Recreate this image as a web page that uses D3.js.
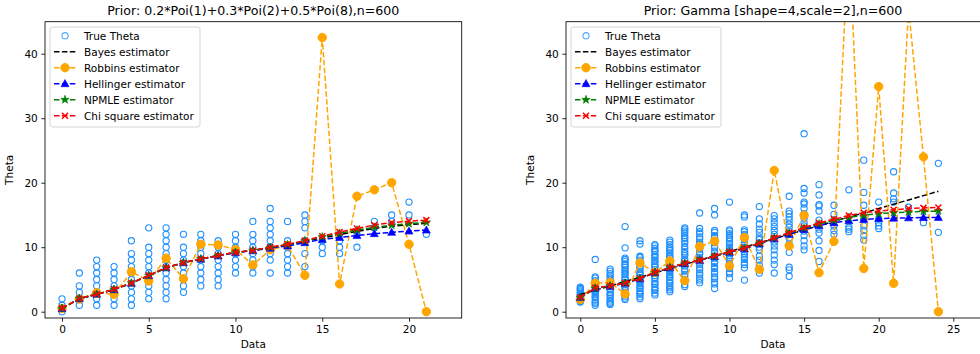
<!DOCTYPE html>
<html>
<head>
<meta charset="utf-8">
<script src="https://cdn.jsdelivr.net/npm/d3@7"></script>
<style>
  body { margin: 0; background: #fff; }
  svg { font-family: "DejaVu Sans", sans-serif; }
</style>
</head>
<body>
<svg id="chart" width="980" height="354"></svg>
<script>
// ---- left panel: Poisson mixture prior ----
const xLeft = [0,1,2,3,4,5,6,7,8,9,10,11,12,13,14,15,16,17,18,19,20,21];
const thetaLeft = [
  [0,1,2], [1,2,3,4,6], [1,2,3,4,5,6,7,8], [1,2,3,4,5,6,7], [1,2,3,4,5,6,7,8,9,11],
  [2,3,4,5,6,7,8,9,10,13], [2,3,4,5,6,7,8,9,10,11,12,13], [3,4,5,6,7,8,9,10,12],
  [4,5,6,7,8,9,10,11,12], [4,5,6,7,8,9,10,11], [6,7,8,9,10,11,12], [6,7,8,9,10,11,12,14],
  [6,8,9,10,11,12,13,14,16], [6,7,8,9,10,11,14], [7,9,11,13,14,15], [9,10,11],
  [9,10,11,12], [10,12], [13,14], [14,15], [15,17], [12]
];
const bayesLeft     = [0.5,2.0,2.7,3.45,4.45,5.6,6.8,7.6,8.2,8.7,9.2,9.5,9.95,10.35,10.9,11.45,11.95,12.45,12.9,13.25,13.5,13.7];
const robbinsLeft   = [0.5,1.95,2.95,2.7,6.2,4.75,8.3,5.1,10.45,10.35,9.65,7.25,9.6,10.25,5.65,42.5,4.3,17.9,18.9,20.0,10.45,0];
const hellingerLeft = [0.5,2.0,2.7,3.4,4.4,5.6,6.8,7.6,8.15,8.65,9.15,9.45,9.85,10.2,10.7,11.2,11.5,11.8,12.1,12.3,12.5,12.65];
const npmleLeft     = [0.5,2.05,2.7,3.45,4.45,5.6,6.8,7.6,8.2,8.7,9.2,9.5,9.95,10.4,11.0,11.6,12.15,12.65,13.1,13.4,13.65,13.85];
const chiLeft       = [0.55,2.05,2.7,3.5,4.45,5.65,6.85,7.6,8.2,8.7,9.2,9.5,10.0,10.45,11.05,11.7,12.35,12.9,13.45,13.8,14.05,14.2];

// ---- right panel: Gamma prior ----
const xRight = [0,1,2,3,4,5,6,7,8,9,10,11,12,13,14,15,16,17,18,19,20,21,22,23,24];
const thetaRight = [
  [1.5,1.6,1.8,2.0,2.3,2.5,2.7,2.9,3.2,3.4,3.6,3.8],
  [8.1,5.4,5.2,4.8,4.5,4.3,3.9,3.6,3.4,3.0,2.8,2.4,2.2,1.8,1.5,1.3,1.0],
  [6.6,6.3,5.9,5.6,5.2,4.9,4.5,4.3,3.9,3.6,3.4,3.0,2.7,2.5,2.1,1.8,1.5,1.3,1.1],
  [13.2,9.9,8.3,8.1,7.8,7.4,7.2,6.9,6.5,6.3,6.0,5.8,5.4,5.1,4.9,4.5,4.2,3.9,3.7,3.3,3.0,2.8,2.4,2.1,1.9],
  [11.0,10.5,8.6,8.4,8.0,7.7,7.5,7.1,6.8,6.6,6.2,5.9,5.7,5.3,5.0,4.8,4.4,4.1,3.8,3.6,3.2,2.9,2.7,2.3,2.0],
  [10.4,10.2,9.8,9.5,9.3,8.9,8.6,8.4,8.0,7.8,7.4,7.1,6.9,6.5,6.2,6.0,5.6,5.3,5.1,4.7,4.4,4.2,3.8,3.5,3.3,2.9,2.6],
  [11.1,10.8,10.4,10.0,9.7,9.5,9.1,8.8,8.5,8.3,7.9,7.6,7.4,7.0,6.7,6.5,6.1,5.8,5.5,5.3,4.9,4.6,4.4,4.0,3.7,3.4,3.1],
  [13.0,12.8,12.5,12.2,11.8,11.5,11.3,10.9,10.6,10.1,9.7,9.3,9.0,8.7,8.2,7.9,7.4,7.1,6.6,6.3,5.8,5.5,5.0,4.7,4.2,3.9],
  [15.3,12.9,12.4,12.1,11.6,11.3,10.8,10.5,10.0,9.7,9.2,8.9,8.4,8.1,7.6,7.3,6.8,6.5,6.0,5.7,5.2,4.9,4.5],
  [16.0,15.0,12.6,12.3,11.8,11.5,11.0,10.7,10.2,9.9,9.4,9.1,8.6,8.3,7.8,7.5,7.0,6.7,6.2,5.9,5.4,5.1,4.6,4.3,3.6],
  [17.0,12.7,12.5,12.1,11.9,11.5,11.3,10.9,10.6,10.2,9.8,9.5,9.0,8.7,8.2,7.8,7.5,7.0,6.7,6.2,5.9,5.2],
  [15.0,14.7,12.7,12.4,12.0,11.7,11.2,10.8,10.5,10.0,9.6,9.3,8.8,8.4,8.1,7.6,7.3,6.8,4.9],
  [16.3,14.4,13.6,12.8,12.3,11.6,11.2,10.6,10.0,9.6,8.6,8.0,7.2,6.6,6.0],
  [14.9,14.4,13.8,13.2,12.6,12.0,11.4,10.8,10.2,9.6,8.8,8.0,7.3,6.0],
  [17.9,15.6,15.2,14.7,14.2,13.6,13.1,12.5,12.0,11.4,10.5,9.2,6.9,6.5,5.5],
  [27.6,19.1,18.4,17.0,16.7,16.0,15.2,14.5,13.8,13.3,12.5,11.8,11.0,10.2,9.6],
  [19.7,18.1,16.6,16.4,15.6,14.2,13.4,12.8,12.2,11.0,9.5,7.8],
  [16.5,15.1,14.1,13.3,12.6,12.0],
  [18.9,13.1,12.8,12.4],
  [23.5,18.5,16.5,14.4,13.3,12.6,11.8,11.1],
  [17.0,14.4,13.8,13.3,12.9],
  [21.7,18.4,17.5,17.0],
  [16.2],
  [13.8],
  [23.0,12.3]
];
const bayesRight     = [2.67,3.33,4.0,4.67,5.33,6.0,6.67,7.33,8.0,8.67,9.33,10.0,10.67,11.33,12.0,12.67,13.33,14.0,14.67,15.33,16.0,16.67,17.33,18.0,18.67];
const robbinsRight   = [1.9,4.4,4.55,2.75,7.55,6.1,7.85,4.8,10.1,10.95,7.1,11.5,6.55,21.9,10.2,14.95,6.05,10.9,58.5,6.7,34.9,4.4,47.0,24.0,0];
const hellingerRight = [2.2,3.65,3.95,4.4,5.1,6.05,6.8,7.45,7.95,8.55,9.2,9.75,10.5,11.3,12.0,12.75,13.35,13.8,14.1,14.3,14.45,14.5,14.55,14.6,14.6];
const npmleRight     = [2.2,3.65,4.0,4.45,5.15,6.05,6.85,7.5,8.0,8.6,9.25,9.85,10.6,11.4,12.2,12.95,13.6,14.15,14.6,14.95,15.2,15.35,15.45,15.55,15.6];
const chiRight       = [2.25,3.7,4.0,4.45,5.15,6.1,6.85,7.5,8.0,8.65,9.3,9.85,10.65,11.45,12.25,13.05,13.75,14.35,14.9,15.35,15.6,15.8,16.0,16.1,16.15];

const legendLabels = ["True Theta","Bayes estimator","Robbins estimator","Hellinger estimator","NPMLE estimator","Chi square estimator"];
const yTicks = [0,10,20,30,40];

const svg = d3.select("#chart");
const plotTop = 21.7, plotBottom = 318;
const y = d3.scaleLinear().domain([0, 40]).range([311.7, 53.7]);
const dash = "5.5,2.4";

function drawMarker(g, kind, px, py) {
  if (kind === "o") {
    g.append("circle").attr("cx", px).attr("cy", py).attr("r", 4.2)
      .attr("fill", "orange").attr("stroke", "orange");
  } else if (kind === "^") {
    g.append("path").attr("transform", `translate(${px},${py})`)
      .attr("d", "M0,-4.2L4,3L-4,3Z").attr("fill", "blue").attr("stroke", "blue").attr("stroke-width", 0.6);
  } else if (kind === "*") {
    g.append("path").attr("transform", `translate(${px},${py})`)
      .attr("d", d3.symbol(d3.symbolStar, 22)()).attr("fill", "green").attr("stroke", "green").attr("stroke-width", 0.6);
  } else if (kind === "x") {
    g.append("path").attr("transform", `translate(${px},${py})`)
      .attr("d", "M-3,-3L3,3M-3,3L3,-3").attr("stroke", "red").attr("stroke-width", 1.5).attr("fill", "none");
  }
}

function panel(opts) {
  const { id, left, right, x, xTicks, xs, theta, series, title, titleX } = opts;
  const g = svg.append("g");

  g.append("clipPath").attr("id", "clip" + id)
    .append("rect").attr("x", left).attr("y", plotTop).attr("width", right - left).attr("height", plotBottom - plotTop);
  const plot = g.append("g").attr("clip-path", `url(#clip${id})`);

  // true theta scatter
  const pts = [];
  theta.forEach((vals, i) => vals.forEach(v => pts.push([xs[i], v])));
  plot.selectAll("circle.theta").data(pts).enter().append("circle")
    .attr("class", "theta")
    .attr("cx", d => x(d[0])).attr("cy", d => y(d[1])).attr("r", 3.1)
    .attr("fill", "none").attr("stroke", "#1e90ff").attr("stroke-width", 1.1);

  const line = d3.line().x((d, i) => x(xs[i])).y(d => y(d));
  series.forEach(s => {
    plot.append("path").datum(s.values).attr("d", line)
      .attr("fill", "none").attr("stroke", s.color).attr("stroke-width", 1.5)
      .attr("stroke-dasharray", dash);
    if (s.marker) {
      const mg = plot.append("g");
      s.values.forEach((v, i) => drawMarker(mg, s.marker, x(xs[i]), y(v)));
    }
  });

  // spines
  g.append("rect").attr("x", left).attr("y", plotTop).attr("width", right - left).attr("height", plotBottom - plotTop)
    .attr("fill", "none").attr("stroke", "#000").attr("stroke-width", 0.85);

  const xAxis = g.append("g").attr("transform", `translate(0,${plotBottom})`)
    .call(d3.axisBottom(x).tickValues(xTicks).tickSize(3.7).tickPadding(3.5));
  const yAxis = g.append("g").attr("transform", `translate(${left},0)`)
    .call(d3.axisLeft(y).tickValues(yTicks).tickSize(3.7).tickPadding(3.5));
  [xAxis, yAxis].forEach(a => {
    a.select(".domain").remove();
    a.selectAll("text").attr("font-size", "10.5px").attr("fill", "#000").attr("font-family", "DejaVu Sans");
    a.selectAll("line").attr("stroke", "#000").attr("stroke-width", 0.85);
  });

  g.append("text").attr("x", titleX).attr("y", 15).attr("text-anchor", "middle")
    .attr("font-size", "12.6px").text(title);
  g.append("text").attr("x", titleX).attr("y", 347.5).attr("text-anchor", "middle")
    .attr("font-size", "10.5px").text("Data");
  g.append("text").attr("transform", `translate(${left - 32.5},${(plotTop + plotBottom) / 2}) rotate(-90)`)
    .attr("text-anchor", "middle").attr("font-size", "10.5px").text("Theta");

  // legend
  const lg = g.append("g").attr("transform", `translate(${left + 5},27)`);
  lg.append("rect").attr("width", 150).attr("height", 100).attr("rx", 2.5)
    .attr("fill", "#fff").attr("fill-opacity", 0.8).attr("stroke", "#d0d0d0").attr("stroke-width", 0.9);
  legendLabels.forEach((lab, i) => {
    const ry = 8.7 + i * 16;
    if (i === 0) {
      lg.append("circle").attr("cx", 15).attr("cy", ry).attr("r", 3.1)
        .attr("fill", "none").attr("stroke", "#4da6ff").attr("stroke-width", 1.1);
    } else {
      const s = series[i - 1];
      lg.append("line").attr("x1", 4).attr("x2", 26).attr("y1", ry).attr("y2", ry)
        .attr("stroke", s.color).attr("stroke-width", 1.5).attr("stroke-dasharray", dash);
      if (s.marker) drawMarker(lg, s.marker, 15, ry);
    }
    lg.append("text").attr("x", 34).attr("y", ry + 3.8).attr("font-size", "10.5px").text(lab);
  });
}

panel({
  id: "L", left: 45, right: 461.7,
  x: d3.scaleLinear().domain([0, 20]).range([62, 409]),
  xTicks: [0,5,10,15,20], xs: xLeft, theta: thetaLeft,
  title: "Prior: 0.2*Poi(1)+0.3*Poi(2)+0.5*Poi(8),n=600", titleX: 253.3,
  series: [
    { values: bayesLeft, color: "#000", marker: null },
    { values: robbinsLeft, color: "orange", marker: "o" },
    { values: hellingerLeft, color: "blue", marker: "^" },
    { values: npmleLeft, color: "green", marker: "*" },
    { values: chiLeft, color: "red", marker: "x" }
  ]
});

panel({
  id: "R", left: 566, right: 984,
  x: d3.scaleLinear().domain([0, 25]).range([580.3, 953.3]),
  xTicks: [0,5,10,15,20,25], xs: xRight, theta: thetaRight,
  title: "Prior: Gamma [shape=4,scale=2],n=600", titleX: 773,
  series: [
    { values: bayesRight, color: "#000", marker: null },
    { values: robbinsRight, color: "orange", marker: "o" },
    { values: hellingerRight, color: "blue", marker: "^" },
    { values: npmleRight, color: "green", marker: "*" },
    { values: chiRight, color: "red", marker: "x" }
  ]
});
</script>
</body>
</html>
